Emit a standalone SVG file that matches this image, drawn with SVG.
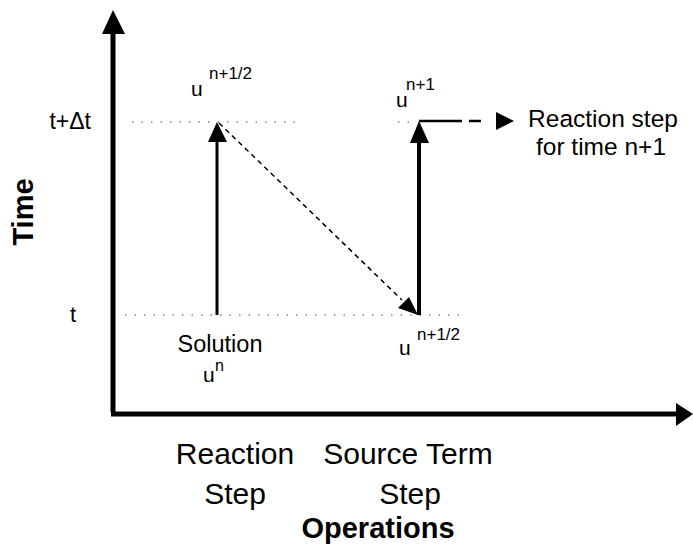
<svg xmlns="http://www.w3.org/2000/svg" width="693" height="544" viewBox="0 0 693 544">
<style>
.t{font-family:"Liberation Sans",Arial,sans-serif;fill:#000}
.b{font-weight:bold}
.dot{stroke:#888;stroke-width:1.5;stroke-dasharray:1.5 8;fill:none}
</style>
<rect width="693" height="544" fill="#fff"/>
<g id="guides">
<line class="dot" x1="132" y1="122" x2="298" y2="122"/>
<line class="dot" x1="398" y1="122" x2="412" y2="122"/>
<line class="dot" x1="125" y1="315" x2="462" y2="315"/>
</g>
<g id="connectors">
<path d="M113,412 V30" stroke="#000" stroke-width="5" fill="none"/>
<polygon points="113,10 102,34 125,34" fill="#000"/>
<path d="M111,414 H676" stroke="#000" stroke-width="5" fill="none"/>
<polygon points="693,414 676,403 676,426" fill="#000"/>
<path d="M217,315 V140" stroke="#000" stroke-width="3" fill="none"/>
<polygon points="217,122 208,142 227,142" fill="#000"/>
<path d="M419,315 V140" stroke="#000" stroke-width="4" fill="none"/>
<polygon points="419,121 410,143 429,143" fill="#000"/>
<path d="M219,123 L402,300" stroke="#000" stroke-width="1.5" stroke-dasharray="5 4" fill="none"/>
<polygon points="418,315 398,308 409,297" fill="#000"/>
<path d="M419,121 H462 M469,121 H481" stroke="#000" stroke-width="2.5" fill="none"/>
<polygon points="514,121 496,112 496,130" fill="#000"/>
</g>
<g id="axis-labels">
<text class="t b" font-size="29" transform="translate(33,212) rotate(-90)" text-anchor="middle">Time</text>
<text class="t" font-size="23" x="91" y="129" text-anchor="end">t+Δt</text>
<text class="t" font-size="22" x="73" y="322" text-anchor="middle">t</text>
<text class="t" font-size="30" x="235" y="464" text-anchor="middle">Reaction</text>
<text class="t" font-size="30" x="235" y="504" text-anchor="middle">Step</text>
<text class="t" font-size="30" x="408" y="464" text-anchor="middle">Source Term</text>
<text class="t" font-size="30" x="410" y="504" text-anchor="middle">Step</text>
<text class="t b" font-size="29" x="378" y="538" text-anchor="middle">Operations</text>
</g>
<g id="u-half-top">
<text class="t" font-size="21" x="191" y="96">u</text>
<text class="t" font-size="17" x="209" y="79">n+1/2</text>
</g>
<g id="u-n1-top">
<text class="t" font-size="21" x="396" y="107">u</text>
<text class="t" font-size="17" x="406" y="90">n+1</text>
</g>
<g id="u-half-bottom">
<text class="t" font-size="21" x="399" y="355">u</text>
<text class="t" font-size="17" x="417" y="340">n+1/2</text>
</g>
<g id="solution">
<text class="t" font-size="23.5" x="220" y="352" text-anchor="middle">Solution</text>
<text class="t" font-size="21" x="203" y="382">u</text>
<text class="t" font-size="16" x="215" y="371">n</text>
</g>
<g id="next-step">
<text class="t" font-size="24.5" x="603" y="127" text-anchor="middle">Reaction step</text>
<text class="t" font-size="24.5" x="601" y="155" text-anchor="middle">for time n+1</text>
</g>
</svg>
